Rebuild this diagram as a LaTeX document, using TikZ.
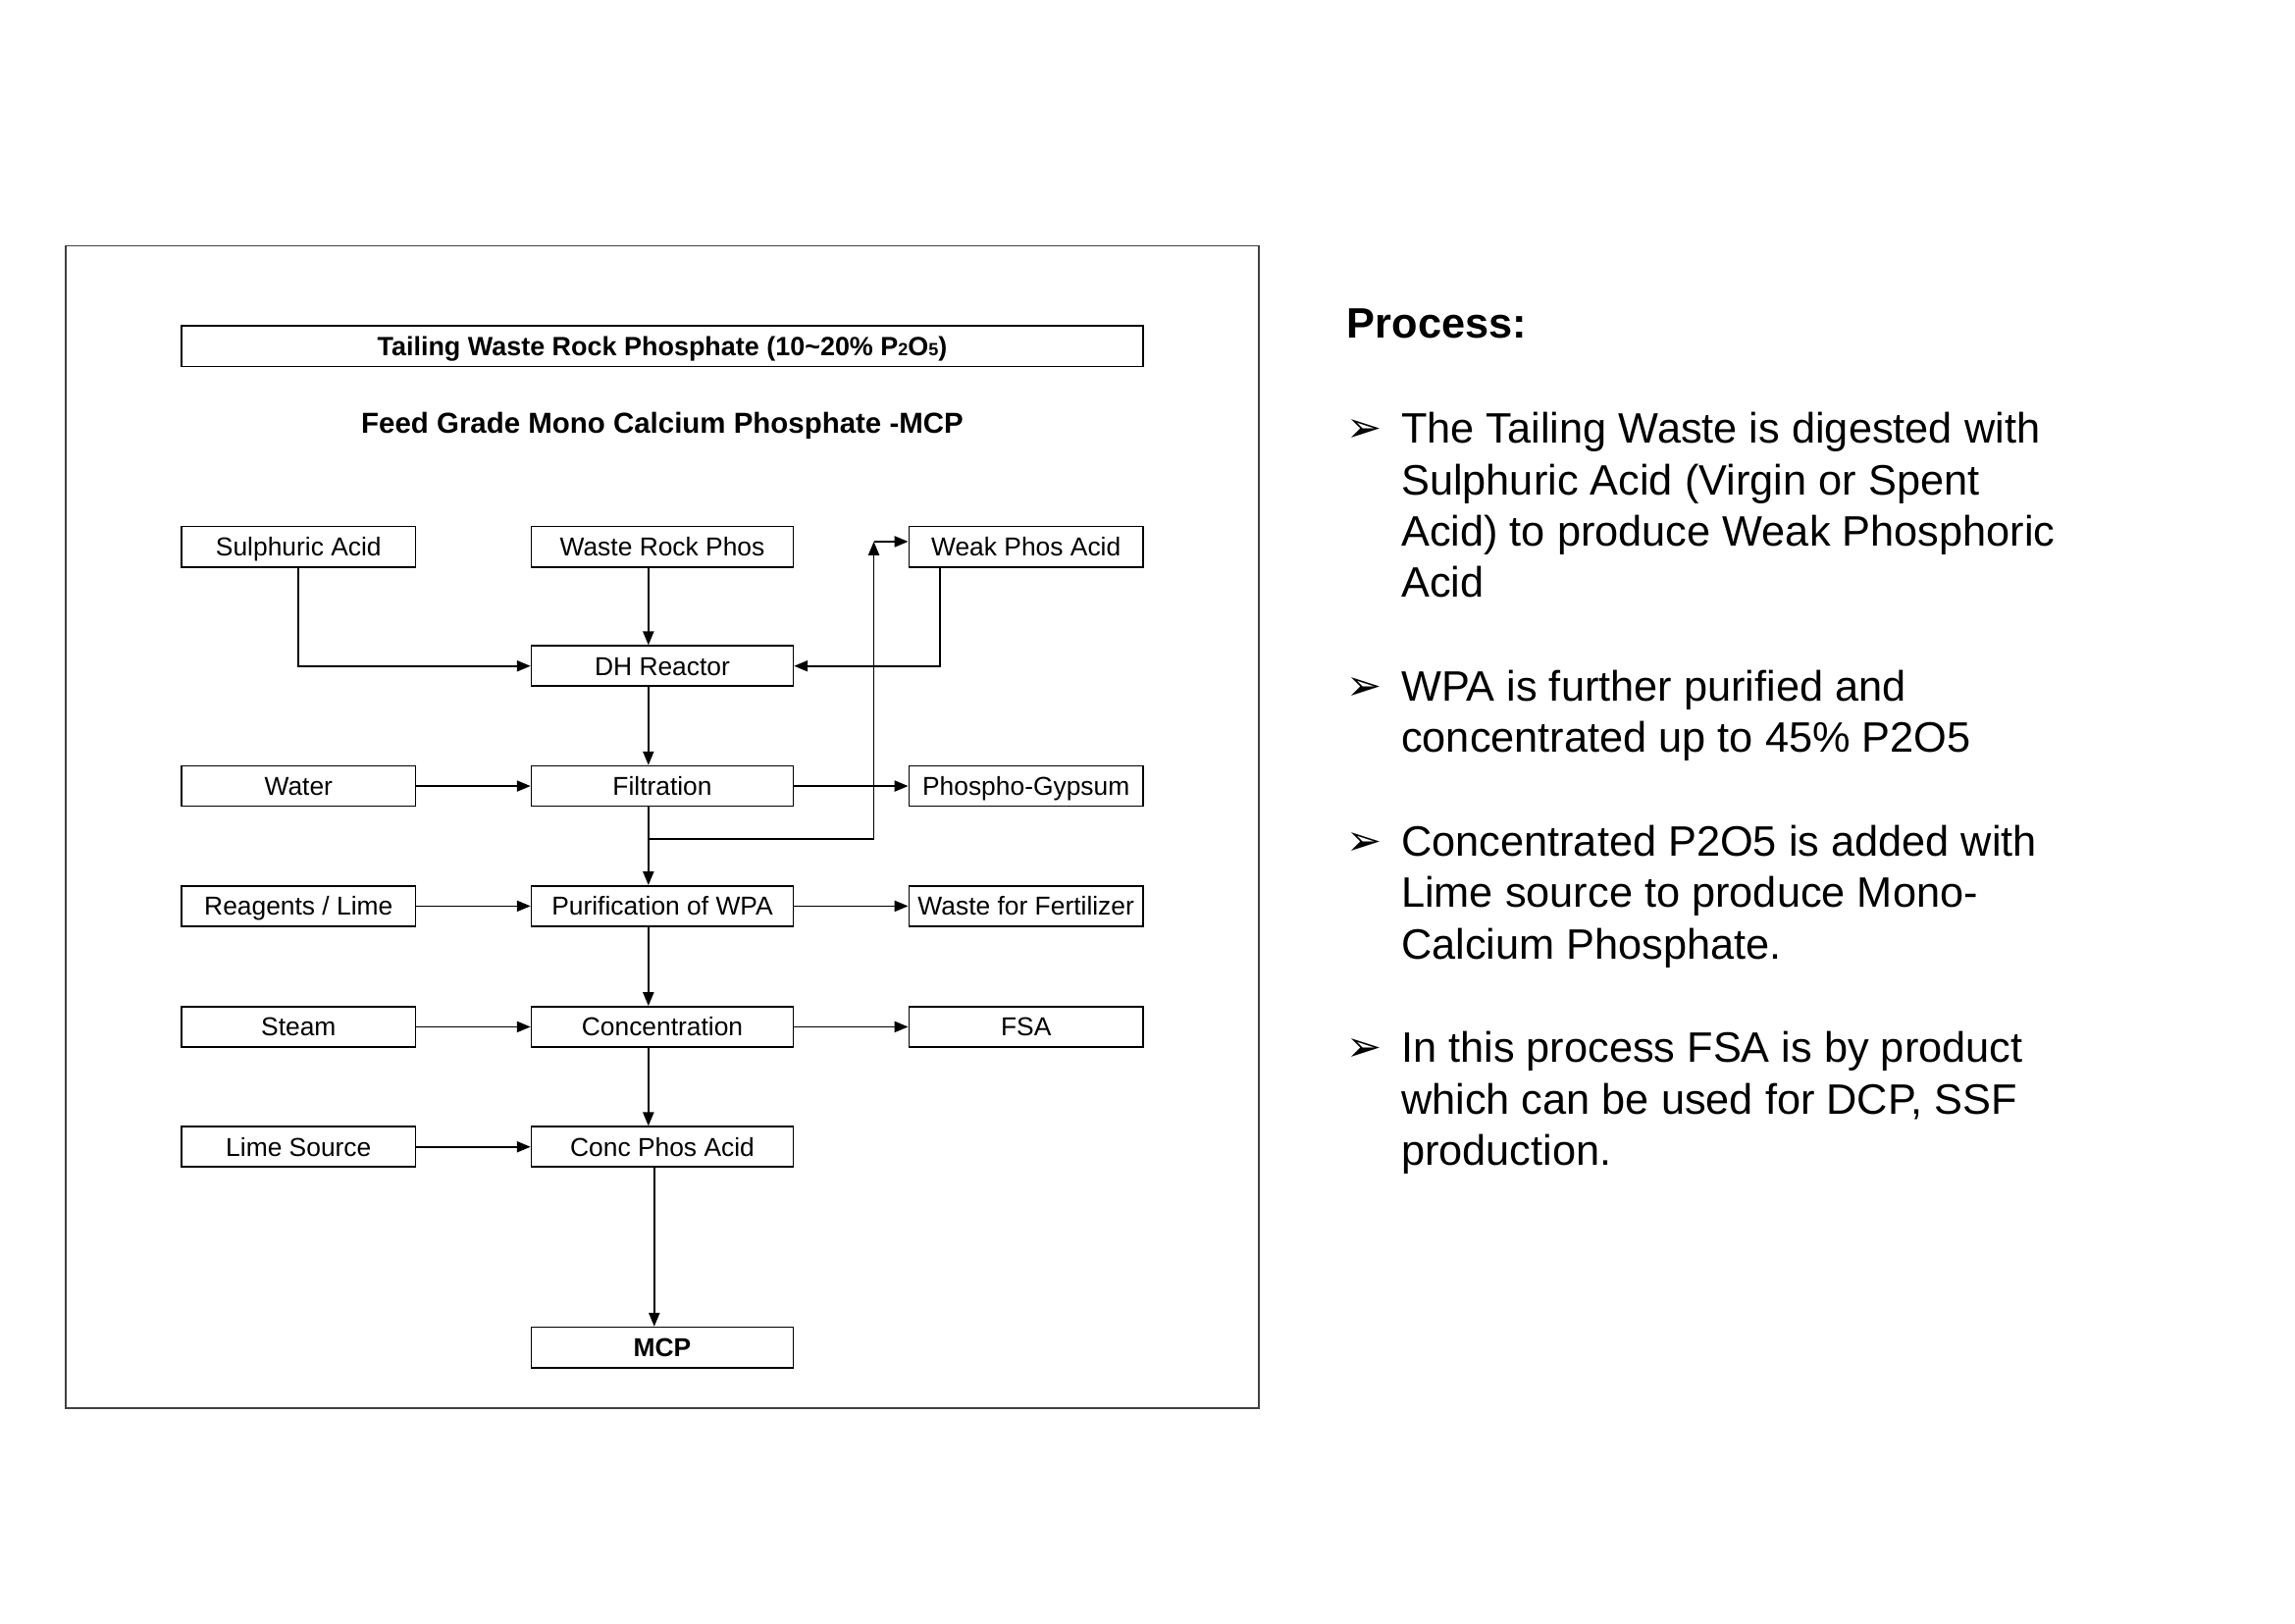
\documentclass[tikz,border=0pt]{standalone}
\usepackage{fontspec}
\setmainfont{Liberation Sans}
\newfontfamily\dejavu{DejaVu Sans}
\usetikzlibrary{arrows.meta}
\newcommand{\smallsub}[1]{{\fontsize{6.5}{7}\selectfont #1}}
\begin{document}
\begin{tikzpicture}[x=0.537pt,y=-0.537pt,
  box/.style={draw, line width=0.6pt, minimum height=14.8pt, inner sep=0pt, text height=8pt, text depth=1.2pt, font=\fontsize{9.5}{11}\selectfont},
  cA/.style={box, minimum width=85.9pt},
  cB/.style={box, minimum width=96.1pt},
  arr/.style={line width=0.6pt, -{Triangle[length=5pt,width=4pt]}},
  ln/.style={line width=0.6pt},
  body/.style={anchor=base west, inner sep=0pt, font=\fontsize{15.6}{18.8}\selectfont},
  bul/.style={anchor=base west, inner sep=0pt, font=\dejavu\fontsize{15.5}{16}\selectfont},
  ]
\useasboundingbox (0,0) rectangle (1568,1109);
\draw[line width=0.5pt, black!75] (45,168) rectangle (860,962);

% title and subtitle
\node[box, minimum width=352.8pt, font=\bfseries\fontsize{9.7}{11}\selectfont] (title) at (452.5,236.5)
  {Tailing Waste Rock Phosphate (10\textasciitilde 20\% P\smallsub{2}O\smallsub{5})};
\node[inner sep=0pt, font=\bfseries\fontsize{10.6}{12}\selectfont] (subt) at (452.5,291)
  {Feed Grade Mono Calcium Phosphate -MCP};

% column A
\node[cA] (sa)  at (204,373.5) {Sulphuric Acid};
\node[cA] (wat) at (204,537)   {Water};
\node[cA] (rea) at (204,619)   {Reagents / Lime};
\node[cA] (stm) at (204,701.5) {Steam};
\node[cA] (lim) at (204,783.5) {Lime Source};
% column B
\node[cB] (wrp) at (452.5,373.5) {Waste Rock Phos};
\node[cB] (dh)  at (452.5,455)   {DH Reactor};
\node[cB] (fil) at (452.5,537)   {Filtration};
\node[cB] (pur) at (452.5,619)   {Purification of WPA};
\node[cB] (con) at (452.5,701.5) {Concentration};
\node[cB] (cpa) at (452.5,783.5) {Conc Phos Acid};
\node[cB, font=\bfseries\fontsize{9.5}{11}\selectfont] (mcp) at (452.5,920.5) {MCP};
% column C
\node[cA] (wpa) at (701,373.5) {Weak Phos Acid};
\node[cA] (pg)  at (701,537)   {Phospho-Gypsum};
\node[cA] (wff) at (701,619)   {Waste for Fertilizer};
\node[cA] (fsa) at (701,701.5) {FSA};

% helper coordinates
\coordinate (xa) at (443,0);
\coordinate (xb) at (447,0);
\coordinate (xw) at (642,0);
\coordinate (jn) at (443,573);
\coordinate (kn) at (597,573);
\coordinate (kt) at (597,370);

% connectors
\draw[arr] (sa.south) |- (dh.west);
\draw[arr] (wrp.south -| xa) -- (dh.north -| xa);
\draw[arr] (wpa.south -| xw) |- (dh.east);
\draw[arr] (dh.south -| xa) -- (fil.north -| xa);
\draw[arr] (fil.south -| xa) -- (pur.north -| xa);
\draw[ln] (jn) -- (kn);
\draw[arr] (kn) -- (kt);
\draw[arr] (kt) -- (wpa.west |- kt);
\draw[arr] (pur.south -| xa) -- (con.north -| xa);
\draw[arr] (con.south -| xa) -- (cpa.north -| xa);
\draw[arr] (cpa.south -| xb) -- (mcp.north -| xb);

\draw[arr] (wat.east) -- (fil.west);
\draw[arr] (rea.east) -- (pur.west);
\draw[arr] (stm.east) -- (con.west);
\draw[arr] (lim.east) -- (cpa.west);
\draw[arr] (fil.east) -- (pg.west);
\draw[arr] (pur.east) -- (wff.west);
\draw[arr] (con.east) -- (fsa.west);

% right-hand text
\node[anchor=base west, inner sep=0pt, font=\bfseries\fontsize{15.6}{18}\selectfont] (proc) at (920,231) {Process:};

\node[bul] (b1) at (920,302) {➢};
\node[body] (l11) at (957,303) {The Tailing Waste is digested with};
\node[body] (l12) at (957,338) {Sulphuric Acid (Virgin or Spent};
\node[body] (l13) at (957,373) {Acid) to produce Weak Phosphoric};
\node[body] (l14) at (957,408) {Acid};

\node[bul] (b2) at (920,478) {➢};
\node[body] (l21) at (957,479) {WPA is further purified and};
\node[body] (l22) at (957,514) {concentrated up to 45\% P2O5};

\node[bul] (b3) at (920,584) {➢};
\node[body] (l31) at (957,585) {Concentrated P2O5 is added with};
\node[body] (l32) at (957,620) {Lime source to produce Mono-};
\node[body] (l33) at (957,655) {Calcium Phosphate.};

\node[bul] (b4) at (920,725) {➢};
\node[body] (l41) at (957,726) {In this process FSA is by product};
\node[body] (l42) at (957,761) {which can be used for DCP, SSF};
\node[body] (l43) at (957,796) {production.};
\end{tikzpicture}
\end{document}
